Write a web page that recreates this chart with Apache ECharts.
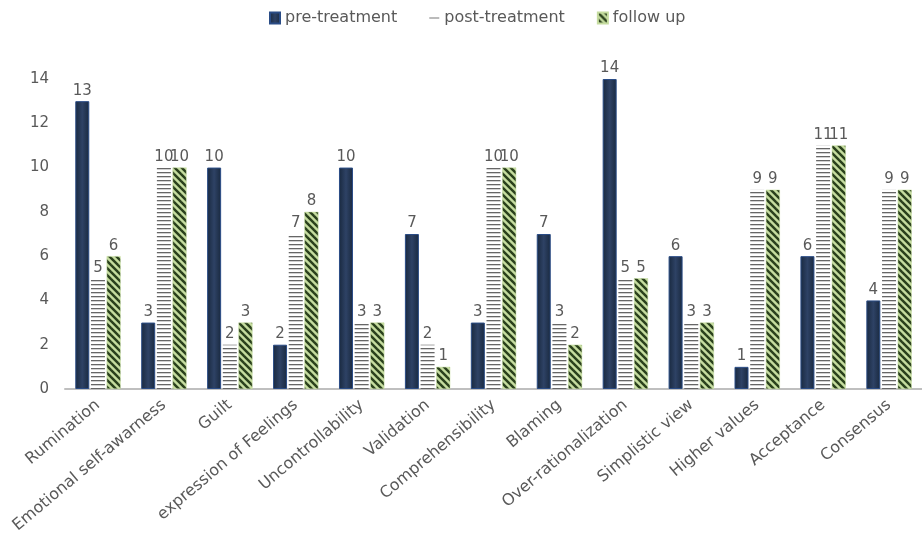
<!DOCTYPE html>
<html>
<head>
<meta charset="utf-8">
<script src="https://cdn.jsdelivr.net/npm/echarts@6/dist/echarts.min.js"></script>
<style>
  html, body { margin: 0; padding: 0; background: #fff; }
  #chart { width: 922px; height: 549px; }
</style>
</head>
<body>
<div id="chart"></div>
<script>
// Categories and scores per phase
const categories = [
  'Rumination', 'Emotional self-awarness', 'Guilt', 'expression of Feelings',
  'Uncontrollability', 'Validation', 'Comprehensibility', 'Blaming',
  'Over-rationalization', 'Simplistic view', 'Higher values', 'Acceptance', 'Consensus'
];
const preTreatment  = [13, 3, 10, 2, 10, 7, 3, 7, 14, 6, 1, 6, 4];
const postTreatment = [5, 10, 2, 7, 3, 2, 10, 3, 5, 3, 9, 11, 9];
const followUp      = [6, 10, 3, 8, 3, 1, 10, 2, 5, 3, 9, 11, 9];
const yTicks = [0, 2, 4, 6, 8, 10, 12, 14];

const FONT = 'DejaVu Sans, Verdana, sans-serif';
const TEXT = '#595959';

// Horizontal-line fill for post-treatment bars
function hLinePattern() {
  const c = document.createElement('canvas');
  c.width = 4; c.height = 4;
  const g = c.getContext('2d');
  g.fillStyle = '#ffffff';
  g.fillRect(0, 0, 4, 4);
  g.fillStyle = '#666666';
  g.fillRect(0, 0, 4, 1.3);
  return c;
}

// Diagonal-stripe fill for follow-up bars
function diagPattern() {
  const s = 7;
  const c = document.createElement('canvas');
  c.width = s; c.height = s;
  const g = c.getContext('2d');
  g.fillStyle = '#c5dc9f';
  g.fillRect(0, 0, s, s);
  g.strokeStyle = '#2a401c';
  g.lineWidth = 2.5;
  [-s, 0, s].forEach(o => {
    g.beginPath();
    g.moveTo(o - 1, -1);
    g.lineTo(o + s + 1, s + 1);
    g.stroke();
  });
  return c;
}

const preColor = {
  type: 'linear', x: 0, y: 0, x2: 1, y2: 0,
  colorStops: [
    { offset: 0, color: '#19293f' },
    { offset: 0.5, color: '#2e4265' },
    { offset: 1, color: '#19293f' }
  ]
};
const postFill = { image: hLinePattern(), repeat: 'repeat' };
const followFill = { image: diagPattern(), repeat: 'repeat' };

const labelStyle = {
  show: true,
  position: 'top',
  distance: 3,
  color: TEXT,
  fontSize: 15,
  fontFamily: FONT
};

const chart = echarts.init(document.getElementById('chart'));
chart.setOption({
  backgroundColor: '#ffffff',
  animation: false,
  legend: {
    top: 5,
    left: 264,
    itemWidth: 10,
    itemHeight: 11,
    itemGap: 32,
    textStyle: { color: TEXT, fontSize: 16, fontFamily: FONT },
    data: [
      { name: 'pre-treatment', icon: 'rect' },
      { name: 'post-treatment', icon: 'path://M0,5 L10,5 L10,6 L0,6 Z', itemStyle: { color: '#777777', borderWidth: 0 } },
      { name: 'follow up', icon: 'rect' }
    ]
  },
  grid: { left: 65, top: 79, width: 866, bottom: 160, containLabel: false },
  xAxis: {
    type: 'category',
    data: categories,
    axisTick: { show: false },
    axisLine: { lineStyle: { color: '#bfbfbf', width: 2 } },
    axisLabel: {
      interval: 0,
      rotate: 40,
      margin: 14,
      color: TEXT,
      fontSize: 16,
      fontFamily: FONT
    }
  },
  yAxis: {
    type: 'value',
    min: yTicks[0],
    max: yTicks[yTicks.length - 1],
    interval: 2,
    axisLine: { show: false },
    axisTick: { show: false },
    splitLine: { show: false },
    axisLabel: {
      color: TEXT,
      fontSize: 15,
      margin: 16,
      fontFamily: FONT
    }
  },
  series: [
    {
      name: 'pre-treatment',
      type: 'bar',
      data: preTreatment,
      barWidth: 14,
      barGap: '12%',
      itemStyle: { color: preColor, borderColor: '#2a4c86', borderWidth: 1 },
      label: labelStyle
    },
    {
      name: 'post-treatment',
      type: 'bar',
      data: postTreatment,
      barWidth: 14,
      barGap: '12%',
      itemStyle: { color: postFill },
      label: labelStyle
    },
    {
      name: 'follow up',
      type: 'bar',
      data: followUp,
      barWidth: 14,
      barGap: '12%',
      itemStyle: { color: followFill, borderColor: '#c5dc9f', borderWidth: 0.5 },
      label: labelStyle
    }
  ]
});
</script>
</body>
</html>
